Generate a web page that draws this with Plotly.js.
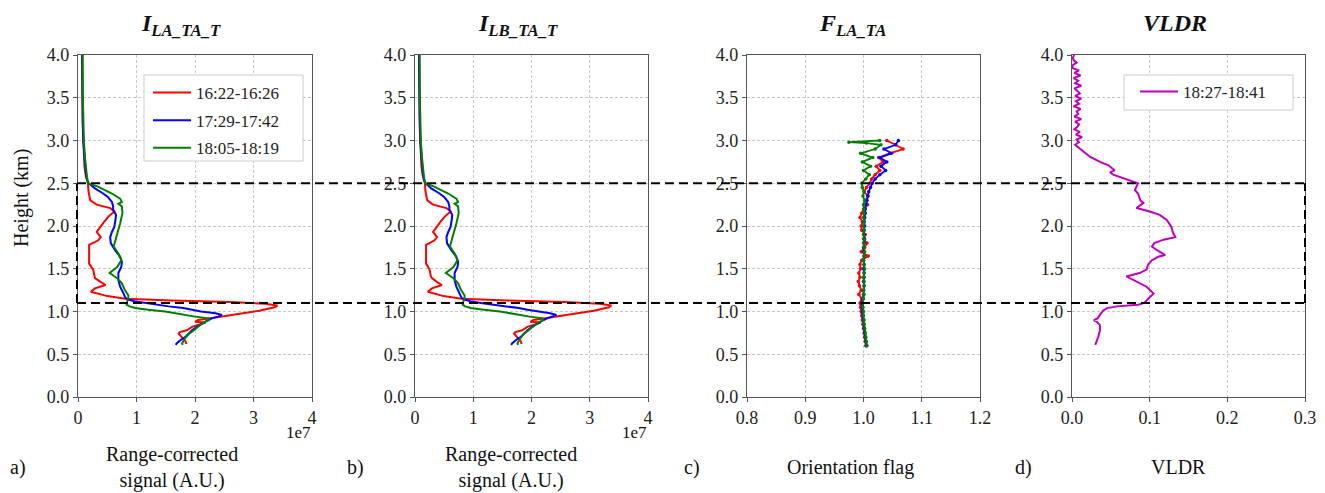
<!DOCTYPE html>
<html><head><meta charset="utf-8">
<script src="https://cdn.plot.ly/plotly-3.0.1.min.js"></script>
<style>html,body{margin:0;padding:0;background:#fff}#chart{width:1325px;height:493px}</style>
</head><body><div id="chart"></div>
<script>
// ---------- DATA ----------
// Panel a: I_LA_TA_T, range-corrected signal (units of 1e7), height (km)
const redA_h = [0.62,0.65,0.68,0.71,0.74,0.76,0.78,0.82,0.86,0.87,0.88,0.90,0.93,0.97,1.01,1.05,1.07,1.09,1.11,1.13,1.15,1.18,1.23,1.27,1.31,1.35,1.39,1.42,1.49,1.56,1.62,1.70,1.78,1.83,1.87,1.93,1.99,2.05,2.11,2.17,2.21,2.25,2.30,2.40,2.50,2.60,2.70,2.80,2.90,3.00,3.20,3.50,3.80,4.00];
const redA_v = [1.85,1.84,1.80,1.76,1.72,1.74,1.86,1.95,2.15,2.18,2.00,2.05,2.35,2.75,3.10,3.36,3.41,3.20,2.60,1.60,0.81,0.50,0.22,0.29,0.47,0.38,0.29,0.28,0.26,0.19,0.19,0.18,0.19,0.34,0.39,0.32,0.38,0.45,0.52,0.62,0.55,0.32,0.21,0.18,0.17,0.13,0.11,0.10,0.09,0.09,0.08,0.08,0.07,0.07];
const blueA_h = [0.61,0.63,0.67,0.70,0.74,0.78,0.82,0.86,0.89,0.92,0.94,0.96,0.98,1.00,1.02,1.04,1.06,1.08,1.10,1.12,1.14,1.16,1.21,1.29,1.37,1.45,1.52,1.58,1.64,1.72,1.80,1.87,1.93,1.99,2.07,2.13,2.19,2.23,2.28,2.34,2.38,2.44,2.50,2.55,2.65,2.80,3.00,3.30,3.60,4.00];
const blueA_v = [1.67,1.69,1.76,1.83,1.89,1.95,2.03,2.12,2.20,2.29,2.40,2.46,2.35,2.10,1.95,1.80,1.55,1.35,1.15,0.96,0.86,0.81,0.78,0.72,0.69,0.69,0.74,0.75,0.72,0.63,0.56,0.55,0.58,0.62,0.64,0.65,0.60,0.60,0.58,0.51,0.43,0.29,0.18,0.15,0.13,0.11,0.09,0.08,0.08,0.07];
const greenA_h = [0.61,0.63,0.69,0.74,0.78,0.82,0.86,0.90,0.92,0.94,0.96,0.98,1.00,1.02,1.04,1.06,1.08,1.10,1.15,1.19,1.25,1.33,1.39,1.45,1.52,1.60,1.68,1.76,1.83,1.91,2.03,2.15,2.23,2.26,2.28,2.32,2.38,2.46,2.50,2.60,2.70,2.80,3.00,3.30,3.60,4.00];
const greenA_v = [1.79,1.78,1.83,1.90,1.98,2.05,2.12,2.24,2.23,2.00,1.83,1.65,1.49,1.20,0.98,0.88,0.83,0.83,0.86,0.86,0.80,0.75,0.67,0.54,0.67,0.74,0.69,0.61,0.64,0.67,0.72,0.76,0.75,0.69,0.75,0.72,0.58,0.34,0.17,0.15,0.13,0.12,0.10,0.09,0.08,0.08];

// Panel b: I_LB_TA_T
const redB_h = [0.62,0.65,0.68,0.71,0.74,0.76,0.78,0.82,0.86,0.87,0.88,0.90,0.93,0.97,1.01,1.05,1.07,1.09,1.11,1.13,1.15,1.18,1.23,1.27,1.31,1.35,1.39,1.42,1.49,1.56,1.62,1.70,1.78,1.83,1.87,1.93,1.99,2.05,2.11,2.17,2.21,2.25,2.30,2.40,2.50,2.60,2.70,2.80,2.90,3.00,3.20,3.50,3.80,4.00];
const redB_v = [1.83,1.82,1.78,1.74,1.70,1.72,1.84,1.93,2.13,2.16,1.98,2.03,2.32,2.72,3.07,3.33,3.37,3.17,2.57,1.58,0.80,0.49,0.22,0.29,0.46,0.37,0.29,0.27,0.25,0.19,0.19,0.18,0.19,0.33,0.38,0.31,0.37,0.44,0.51,0.61,0.54,0.31,0.21,0.18,0.17,0.13,0.11,0.10,0.09,0.09,0.08,0.08,0.07,0.07];
const blueB_h = [0.61,0.63,0.67,0.70,0.74,0.78,0.82,0.86,0.89,0.92,0.94,0.96,0.98,1.00,1.02,1.04,1.06,1.08,1.10,1.12,1.14,1.16,1.21,1.29,1.37,1.45,1.52,1.58,1.64,1.72,1.80,1.87,1.93,1.99,2.07,2.13,2.19,2.23,2.28,2.34,2.38,2.44,2.50,2.55,2.65,2.80,3.00,3.30,3.60,4.00];
const blueB_v = [1.65,1.67,1.74,1.81,1.87,1.93,2.01,2.10,2.18,2.27,2.37,2.43,2.32,2.08,1.93,1.78,1.53,1.33,1.13,0.95,0.85,0.80,0.77,0.71,0.68,0.68,0.73,0.74,0.71,0.62,0.55,0.54,0.57,0.61,0.63,0.64,0.59,0.59,0.57,0.50,0.42,0.28,0.18,0.15,0.13,0.11,0.09,0.08,0.08,0.07];
const greenB_h = [0.61,0.63,0.69,0.74,0.78,0.82,0.86,0.90,0.92,0.94,0.96,0.98,1.00,1.02,1.04,1.06,1.08,1.10,1.15,1.19,1.25,1.33,1.39,1.45,1.52,1.60,1.68,1.76,1.83,1.91,2.03,2.15,2.23,2.26,2.28,2.32,2.38,2.46,2.50,2.60,2.70,2.80,3.00,3.30,3.60,4.00];
const greenB_v = [1.77,1.76,1.81,1.87,1.95,2.02,2.09,2.20,2.19,1.97,1.80,1.62,1.46,1.18,0.96,0.86,0.82,0.82,0.85,0.85,0.79,0.74,0.66,0.53,0.66,0.73,0.68,0.60,0.63,0.66,0.71,0.75,0.74,0.68,0.74,0.71,0.57,0.33,0.17,0.15,0.13,0.12,0.10,0.09,0.08,0.08];

// Panel c: F_LA_TA orientation flag
const flagH = [0.60,0.65,0.70,0.75,0.80,0.85,0.90,0.95,1.00,1.05,1.10,1.15,1.20,1.25,1.30,1.35,1.40,1.45,1.50,1.55,1.60,1.65,1.70,1.75,1.80,1.85,1.90,1.95,2.00,2.05,2.10,2.15,2.20,2.25,2.30,2.35,2.40,2.45,2.50,2.55,2.60,2.65,2.70,2.75,2.80,2.85,2.90,2.95,3.00];
const redFlag = [1.004,1.003,1.002,1.001,1.000,0.999,0.998,0.997,0.996,0.995,0.994,0.997,0.992,0.996,0.993,0.991,0.994,0.992,0.995,0.994,0.997,1.008,0.996,1.002,1.006,1.000,1.003,0.997,0.996,0.998,0.994,0.997,1.000,1.007,1.004,1.008,1.001,1.005,1.011,1.014,1.020,1.028,1.022,1.034,1.026,1.045,1.068,1.055,1.040];
const blueFlag = [1.005,1.004,1.003,1.002,1.001,1.000,1.000,0.999,0.998,0.998,0.997,0.999,1.000,1.000,1.001,1.000,1.001,1.001,1.000,1.001,1.000,1.001,1.001,1.000,1.001,1.002,1.001,1.001,1.002,1.001,1.002,1.003,1.003,1.004,1.006,1.007,1.009,1.012,1.015,1.020,1.028,1.038,1.030,1.040,1.028,1.048,1.035,1.055,1.060];
const greenFlagH = [0.60,0.65,0.70,0.75,0.80,0.85,0.90,0.95,1.00,1.05,1.10,1.15,1.20,1.25,1.30,1.35,1.40,1.45,1.50,1.55,1.60,1.65,1.70,1.75,1.80,1.85,1.90,1.95,2.00,2.05,2.10,2.15,2.20,2.25,2.30,2.35,2.40,2.45,2.50,2.55,2.60,2.65,2.70,2.75,2.80,2.85,2.90,2.95,2.97,2.98,3.00];
const greenFlag = [1.006,1.005,1.004,1.003,1.002,1.001,1.001,1.000,1.000,0.999,0.999,1.000,1.001,1.000,1.001,1.001,1.000,1.001,1.002,1.001,1.000,1.001,1.002,1.001,1.000,1.001,1.000,1.001,1.000,1.001,1.000,1.001,1.001,1.000,1.002,0.999,1.001,0.998,0.997,1.004,1.010,1.000,1.012,0.998,1.016,0.995,1.020,1.030,1.005,0.975,1.028];

// Panel d: VLDR
const vldrH = [4.00,3.97,3.94,3.91,3.88,3.85,3.82,3.79,3.76,3.73,3.70,3.67,3.64,3.61,3.58,3.55,3.52,3.49,3.46,3.43,3.40,3.37,3.34,3.31,3.28,3.25,3.22,3.19,3.16,3.13,3.10,3.07,3.04,3.01,2.98,2.95,2.92,2.87,2.81,2.75,2.71,2.65,2.63,2.60,2.56,2.52,2.50,2.46,2.42,2.38,2.30,2.27,2.21,2.17,2.13,2.07,1.99,1.92,1.87,1.84,1.80,1.76,1.72,1.66,1.64,1.60,1.55,1.49,1.45,1.41,1.35,1.29,1.21,1.15,1.10,1.08,1.06,1.04,1.01,0.96,0.92,0.90,0.88,0.84,0.78,0.71,0.65,0.61];
const vldrV = [0.003,0.001,0.002,0.006,0.001,0.000,0.009,0.003,0.011,0.002,0.008,0.004,0.012,0.003,0.007,0.010,0.004,0.012,0.005,0.009,0.002,0.011,0.006,0.008,0.003,0.012,0.004,0.009,0.007,0.003,0.010,0.005,0.013,0.006,0.009,0.004,0.008,0.015,0.023,0.036,0.047,0.055,0.049,0.053,0.066,0.079,0.085,0.083,0.081,0.085,0.088,0.092,0.083,0.100,0.113,0.122,0.128,0.130,0.133,0.118,0.106,0.103,0.109,0.120,0.111,0.103,0.098,0.096,0.087,0.070,0.083,0.096,0.105,0.099,0.093,0.085,0.058,0.045,0.040,0.036,0.033,0.028,0.032,0.036,0.036,0.034,0.032,0.030];

const seriesNames = ['16:22-16:26','17:29-17:42','18:05-18:19'];
const vldrName = '18:27-18:41';
const panelTitles = ['<b><i>I<sub>LA_TA_T</sub></i></b>','<b><i>I<sub>LB_TA_T</sub></i></b>','<b><i>F<sub>LA_TA</sub></i></b>','<b><i>VLDR</i></b>'];
const boxHeights = [1.1, 2.5];

// ---------- LAYOUT ----------
const W = 1325, H = 493;
const F = "'Liberation Serif', 'Times New Roman', serif";
const px = x => x / W, py = y => 1 - y / H;
const colors = {r:'#ff0000', b:'#0000ff', g:'#008000', m:'#bf00bf'};
const yDom = [py(397), py(55)];
const xDoms = [[px(78),px(312)],[px(415),px(648)],[px(747),px(980)],[px(1072),px(1305)]];

function xaxis(i, range, dtick, fmt){
  return {domain:xDoms[i], range:range, dtick:dtick, tick0:0, tickformat:fmt, anchor:i?('y'+(i+1)):'y',
    showgrid:true, gridcolor:'#c8c8c8', griddash:'3px,2px', gridwidth:1, zeroline:false,
    showline:true, linecolor:'#555', linewidth:1.2, mirror:true, ticks:'outside', ticklen:4, tickcolor:'#555',
    tickfont:{family:F,size:18,color:'#222'}, fixedrange:true};
}
function yaxis(i){
  return {domain:yDom, range:[0,4], dtick:0.5, tick0:0, tickformat:'.1f', anchor:i?('x'+(i+1)):'x',
    showgrid:true, gridcolor:'#c8c8c8', griddash:'3px,2px', gridwidth:1, zeroline:false,
    showline:true, linecolor:'#555', linewidth:1.2, mirror:true, ticks:'outside', ticklen:4, tickcolor:'#555',
    tickfont:{family:F,size:18,color:'#222'}, fixedrange:true};
}

const traces = [];
function line(x, y, color, name, ax, show, legend, grp){
  traces.push({type:'scatter', mode:'lines', x:x, y:y, name:name, line:{color:color,width:2},
    xaxis:ax[0], yaxis:ax[1], showlegend:show, legend:legend||'legend', legendgroup:grp||name});
}
line(redA_v, redA_h, colors.r, seriesNames[0], ['x','y'], true);
line(blueA_v, blueA_h, colors.b, seriesNames[1], ['x','y'], true);
line(greenA_v, greenA_h, colors.g, seriesNames[2], ['x','y'], true);
line(redB_v, redB_h, colors.r, seriesNames[0], ['x2','y2'], false, 'legend', 'b1');
line(blueB_v, blueB_h, colors.b, seriesNames[1], ['x2','y2'], false, 'legend', 'b2');
line(greenB_v, greenB_h, colors.g, seriesNames[2], ['x2','y2'], false, 'legend', 'b3');
[[redFlag, flagH, colors.r, 0],[blueFlag, flagH, colors.b, 1],[greenFlag, greenFlagH, colors.g, 2]].forEach(s=>{
  traces.push({type:'scatter', mode:'lines+markers', x:s[0], y:s[1], name:seriesNames[s[3]],
    line:{color:s[2],width:1.8}, marker:{color:s[2],size:3.5}, xaxis:'x3', yaxis:'y3', showlegend:false, legendgroup:'c'+s[3]});
});
line(vldrV, vldrH, colors.m, vldrName, ['x4','y4'], true, 'legend2');

const shapes = [];
// legend frames (matplotlib-style boxes)
shapes.push({type:'rect', xref:'paper', yref:'paper', x0:px(144), x1:px(303), y0:py(161), y1:py(75), fillcolor:'#fff', line:{color:'#cccccc',width:1}, layer:'above'});
shapes.push({type:'rect', xref:'paper', yref:'paper', x0:px(1124), x1:px(1293), y0:py(110), y1:py(75), fillcolor:'#fff', line:{color:'#cccccc',width:1}, layer:'above'});
const dashStyle = {color:'#000', width:2, dash:'9px,5px'};
boxHeights.forEach(h=>shapes.push({type:'line', xref:'paper', yref:'y', x0:px(77), x1:px(1305), y0:h, y1:h, line:dashStyle, layer:'above'}));
[77,1305].forEach(x=>shapes.push({type:'line', xref:'paper', yref:'y', x0:px(x), x1:px(x), y0:boxHeights[0], y1:boxHeights[1], line:dashStyle, layer:'above'}));

const ann = [];
function text(t, x, y, size, extra){
  ann.push(Object.assign({text:t, xref:'paper', yref:'paper', x:px(x), y:py(y), xanchor:'center', yanchor:'middle',
    showarrow:false, font:{family:F, size:size, color:'#111'}}, extra||{}));
}
text(panelTitles[0], 181, 25, 24);
text(panelTitles[1], 518, 25, 24);
text(panelTitles[2], 852, 25, 24);
text(panelTitles[3], 1175, 23, 24);
text('Height (km)', 22, 198, 20, {textangle:-90});
text('Range-corrected<br>signal (A.U.)', 172, 467, 20);
text('Range-corrected<br>signal (A.U.)', 511, 467, 20);
text('Orientation flag', 851, 467, 20);
text('VLDR', 1178, 467, 20);
text('a)', 18, 467, 20);
text('b)', 355, 467, 20);
text('c)', 692, 467, 20);
text('d)', 1023, 467, 20);
text('1e7', 298, 432, 17);
text('1e7', 634, 432, 17);

const layout = {
  width:W, height:H, margin:{l:0,r:0,t:0,b:0}, paper_bgcolor:'#fff', plot_bgcolor:'#fff',
  font:{family:F, color:'#222'},
  xaxis:xaxis(0,[0,4],1,'d'), yaxis:yaxis(0),
  xaxis2:xaxis(1,[0,4],1,'d'), yaxis2:yaxis(1),
  xaxis3:xaxis(2,[0.8,1.2],0.1,'.1f'), yaxis3:yaxis(2),
  xaxis4:xaxis(3,[0,0.3],0.1,'.1f'), yaxis4:yaxis(3),
  legend:{x:px(148), y:py(75), xanchor:'left', yanchor:'top', bgcolor:'rgba(0,0,0,0)', borderwidth:0,
    font:{family:F,size:17,color:'#222'}, tracegroupgap:2.5, itemwidth:38},
  legend2:{x:px(1135), y:py(74), xanchor:'left', yanchor:'top', bgcolor:'rgba(0,0,0,0)', borderwidth:0,
    font:{family:F,size:17,color:'#222'}, itemwidth:38},
  shapes:shapes, annotations:ann, showlegend:true
};
Plotly.newPlot('chart', traces, layout, {displayModeBar:false, staticPlot:true});
</script></body></html>
